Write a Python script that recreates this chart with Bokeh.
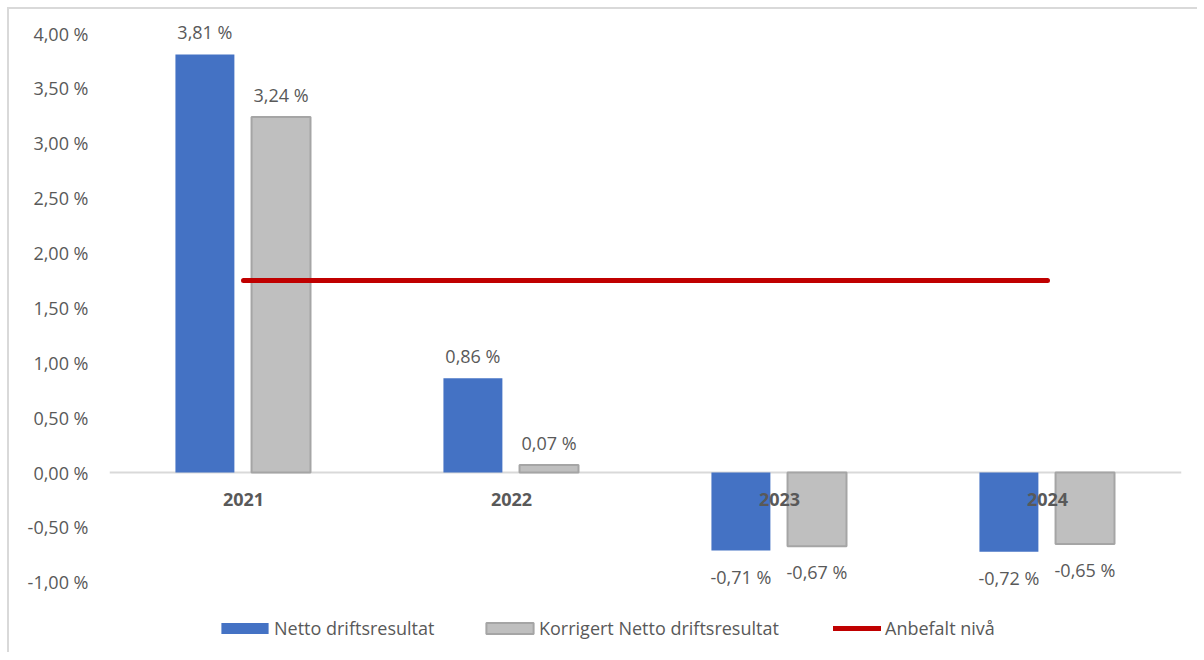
from bokeh.plotting import figure
from bokeh.models import (ColumnDataSource, FactorRange, Range1d, CustomJSTickFormatter,
                          Legend, LegendItem, FixedTicker, Span)
from bokeh.transform import dodge
from bokeh.core.properties import value
from bokeh.embed import file_html
from bokeh.resources import INLINE

# ---- data ----
years = ["2021", "2022", "2023", "2024"]
netto = [3.81, 0.86, -0.71, -0.72]
korrigert = [3.24, 0.07, -0.67, -0.65]
anbefalt = [1.75, 1.75, 1.75, 1.75]
y_ticks = [-1.0, -0.5, 0.0, 0.5, 1.0, 1.5, 2.0, 2.5, 3.0, 3.5, 4.0]
series_names = ["Netto driftsresultat", "Korrigert Netto driftsresultat", "Anbefalt nivå"]


def fmt(v):
    return f"{v:.2f}".replace(".", ",") + " %"


FONT = "Open Sans"
TXT = "#595959"
FS = "18px"

src = ColumnDataSource(dict(
    year=years, netto=netto, korr=korrigert, anb=anbefalt,
    zero=[0.0] * len(years),
    netto_lbl=[fmt(v) for v in netto],
    korr_lbl=[fmt(v) for v in korrigert],
    netto_off=[-22 if v >= 0 else 26 for v in netto],
    korr_off=[-22 if v >= 0 else 26 for v in korrigert],
))

p = figure(width=1190, height=645, x_range=FactorRange(*years, range_padding=0),
           y_range=Range1d(-1.657, 4.219), output_backend="svg", toolbar_location=None,
           x_axis_location=None,
           min_border_left=100, min_border_right=18, min_border_top=0, min_border_bottom=0)
p.margin = (7, 0, 0, 7)
p.styles = {"border-left": "2px solid #d9d9d9", "border-top": "2px solid #d9d9d9"}
p.outline_line_color = None
p.xgrid.grid_line_color = None
p.ygrid.grid_line_color = None

p.add_layout(Span(location=0, dimension="width", line_color="#d9d9d9", line_width=2, level="underlay"))

r_netto = p.vbar(x=dodge("year", -0.144, range=p.x_range), top="netto", bottom=0, width=0.22,
                 source=src, fill_color="#4472c4", line_color=None)
r_korr = p.vbar(x=dodge("year", 0.14, range=p.x_range), top="korr", bottom=0, width=0.22,
                source=src, fill_color="#bfbfbf", line_color="#a5a5a5", line_width=2)
r_line = p.line(x="year", y="anb", source=src, line_color="#c00000", line_width=5,
                line_cap="round")

p.text(x=dodge("year", -0.144, range=p.x_range), y="netto", text="netto_lbl", y_offset="netto_off",
       source=src, text_align="center", text_baseline="middle", text_color=TXT,
       text_font=value(FONT), text_font_size=FS)
p.text(x=dodge("year", 0.14, range=p.x_range), y="korr", text="korr_lbl", y_offset="korr_off",
       source=src, text_align="center", text_baseline="middle", text_color=TXT,
       text_font=value(FONT), text_font_size=FS)
# category labels at the zero line
p.text(x="year", y="zero", text="year", y_offset=27, source=src, text_align="center",
       text_baseline="middle", text_color=TXT, text_font=value(FONT), text_font_size=FS,
       text_font_style="bold")

# y axis
p.yaxis.ticker = FixedTicker(ticks=y_ticks)
p.yaxis.formatter = CustomJSTickFormatter(code="return tick.toFixed(2).replace('.', ',') + ' %';")
p.yaxis.axis_line_color = None
p.yaxis.major_tick_line_color = None
p.yaxis.minor_tick_line_color = None
p.yaxis.major_label_standoff = 15
p.yaxis.major_label_text_font = FONT
p.yaxis.major_label_text_font_size = FS
p.yaxis.major_label_text_color = TXT


def make_legend(label, renderer, x, gw, gh, standoff):
    return Legend(items=[LegendItem(label=label, renderers=[renderer])],
                  orientation="horizontal", location=(x, 14), glyph_width=gw, glyph_height=gh,
                  label_standoff=standoff, padding=0, margin=0, border_line_color=None,
                  background_fill_alpha=0, label_text_font=FONT, label_text_font_size=FS,
                  label_text_color=TXT)


p.add_layout(make_legend(series_names[0], r_netto, 106, 59, 14, 0), "center")
p.add_layout(make_legend(series_names[1], r_korr, 371, 59, 14, 0), "center")
p.add_layout(make_legend(series_names[2], r_line, 724, 48, 14, 4), "center")

open("out.html", "w").write(file_html(p, INLINE))
